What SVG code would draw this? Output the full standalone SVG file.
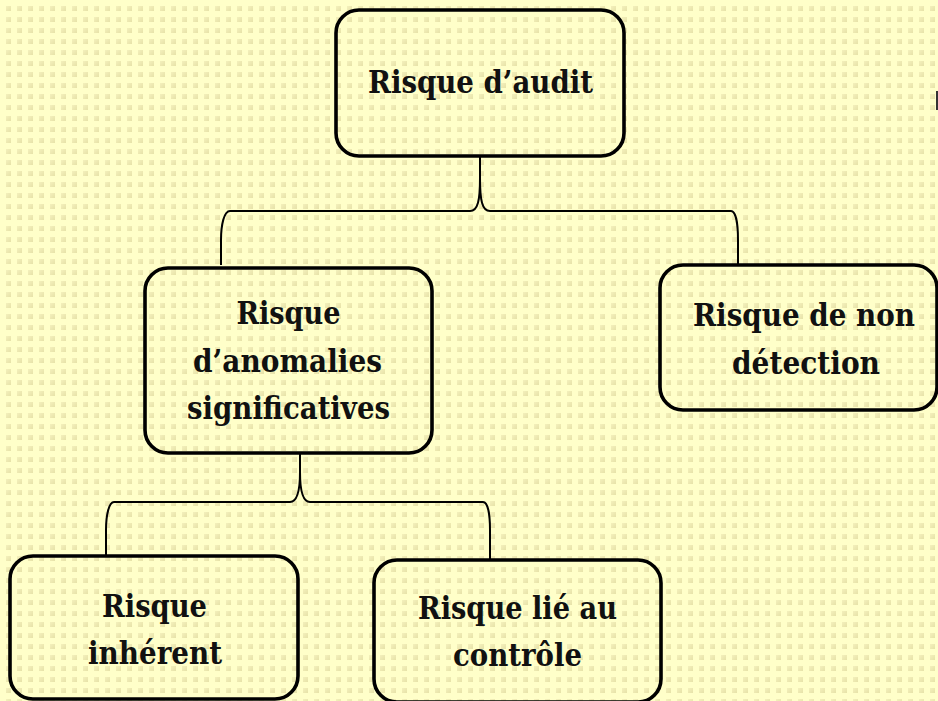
<svg xmlns="http://www.w3.org/2000/svg" width="938" height="701" viewBox="0 0 938 701">
<defs>
<linearGradient id="sq" x1="0" y1="0" x2="1" y2="1">
<stop offset="0" stop-color="#f4f1bc"/>
<stop offset="1" stop-color="#e6e2a8"/>
</linearGradient>
<pattern id="dots" x="0" y="0" width="11" height="11" patternUnits="userSpaceOnUse">
<rect x="6" y="6" width="5" height="5" fill="url(#sq)"/>
</pattern>
</defs>
<style>
.box{fill:none;stroke:#000;stroke-width:3.6}
.lbl{font-family:"DejaVu Serif","Liberation Serif",serif;font-stretch:condensed;font-weight:bold;font-size:31.5px;fill:#111;text-anchor:middle}
.con{fill:none;stroke:#000;stroke-width:2}
</style>
<rect width="938" height="701" fill="#ffffc9"/>
<rect width="938" height="701" fill="url(#dots)"/>
<rect x="936" y="91" width="2" height="19" fill="#333"/>
<g id="connectors">
<path class="con" d="M480,156 L480,178 C480,200 478,211 470,211 L230,211 C224,211 221,225 221,240 L221,265"/>
<path class="con" d="M480,178 C480,200 482,211 490,211 L731,211 C736,211 738,225 738,240 L738,264"/>
<path class="con" d="M300,453 L300,472 C300,492 297,502 290,502 L114,502 C109,502 106,515 106,530 L106,555"/>
<path class="con" d="M300,472 C300,492 303,502 310,502 L483,502 C488,502 490,515 490,530 L490,559"/>
</g>
<g id="audit">
<rect class="box" x="336" y="10" width="288" height="146" rx="23"/>
<text class="lbl" x="480.5" y="92.5" textLength="225" lengthAdjust="spacingAndGlyphs">Risque d’audit</text>
</g>
<g id="anomalies">
<rect class="box" x="145" y="268" width="287" height="185" rx="23"/>
<text class="lbl" x="288.5" y="324" textLength="104" lengthAdjust="spacingAndGlyphs">Risque</text>
<text class="lbl" x="287.5" y="372" textLength="189" lengthAdjust="spacingAndGlyphs">d’anomalies</text>
<text class="lbl" x="288.5" y="419" textLength="203" lengthAdjust="spacingAndGlyphs">significatives</text>
</g>
<g id="non-detection">
<rect class="box" x="660" y="265" width="277" height="145" rx="23"/>
<text class="lbl" x="804" y="326" textLength="222" lengthAdjust="spacingAndGlyphs">Risque de non</text>
<text class="lbl" x="806" y="374" textLength="148" lengthAdjust="spacingAndGlyphs">détection</text>
</g>
<g id="inherent">
<rect class="box" x="10" y="556" width="288" height="143" rx="23"/>
<text class="lbl" x="154.5" y="617" textLength="105" lengthAdjust="spacingAndGlyphs">Risque</text>
<text class="lbl" x="155" y="664" textLength="134" lengthAdjust="spacingAndGlyphs">inhérent</text>
</g>
<g id="controle">
<rect class="box" x="374" y="560" width="287" height="142" rx="23"/>
<text class="lbl" x="517.5" y="619" textLength="199" lengthAdjust="spacingAndGlyphs">Risque lié au</text>
<text class="lbl" x="517.5" y="666" textLength="129" lengthAdjust="spacingAndGlyphs">contrôle</text>
</g>
</svg>
